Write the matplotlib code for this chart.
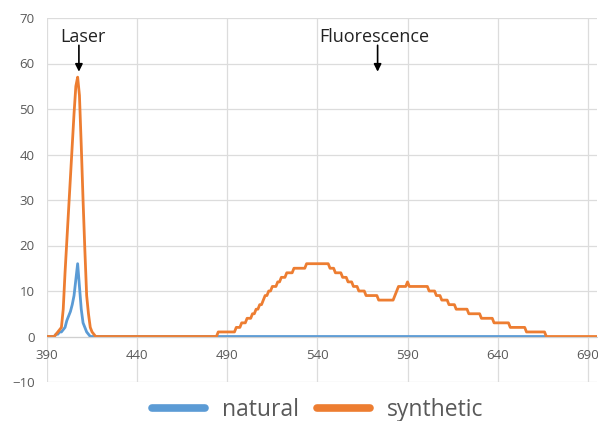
import numpy as np
import matplotlib.pyplot as plt

plt.rcParams['font.family'] = ['Open Sans', 'DejaVu Sans']

# wavelength in nm, one point per nm
wavelength = np.arange(390, 696)

# synthetic (orange), rows of 10 starting at 390, 400, ...
synthetic = [
    0, 0, 0, 0, 0, 0.5, 1, 1.5, 2, 6,            # 390
    14, 21, 28, 35, 42, 49, 55, 57, 53, 42,      # 400
    30, 19, 9, 5, 2, 1, 0.5, 0, 0, 0,            # 410
    0, 0, 0, 0, 0, 0, 0, 0, 0, 0,                # 420
    0, 0, 0, 0, 0, 0, 0, 0, 0, 0,                # 430
    0, 0, 0, 0, 0, 0, 0, 0, 0, 0,                # 440
    0, 0, 0, 0, 0, 0, 0, 0, 0, 0,                # 450
    0, 0, 0, 0, 0, 0, 0, 0, 0, 0,                # 460
    0, 0, 0, 0, 0, 0, 0, 0, 0, 0,                # 470
    0, 0, 0, 0, 0, 1, 1, 1, 1, 1,                # 480
    1, 1, 1, 1, 1, 2, 2, 2, 3, 3,                # 490
    3, 4, 4, 4, 5, 5, 6, 6, 7, 7,                # 500
    8, 9, 9, 10, 10, 11, 11, 11, 12, 12,         # 510
    13, 13, 13, 14, 14, 14, 14, 15, 15, 15,      # 520
    15, 15, 15, 15, 16, 16, 16, 16, 16, 16,      # 530
    16, 16, 16, 16, 16, 16, 16, 15, 15, 15,      # 540
    14, 14, 14, 14, 13, 13, 13, 12, 12, 12,      # 550
    11, 11, 11, 10, 10, 10, 10, 9, 9, 9,         # 560
    9, 9, 9, 9, 8, 8, 8, 8, 8, 8,                # 570
    8, 8, 8, 9, 10, 11, 11, 11, 11, 11,          # 580
    12, 11, 11, 11, 11, 11, 11, 11, 11, 11,      # 590
    11, 11, 10, 10, 10, 10, 9, 9, 9, 8,          # 600
    8, 8, 8, 7, 7, 7, 7, 6, 6, 6,                # 610
    6, 6, 6, 6, 5, 5, 5, 5, 5, 5,                # 620
    5, 4, 4, 4, 4, 4, 4, 4, 3, 3,                # 630
    3, 3, 3, 3, 3, 3, 3, 2, 2, 2,                # 640
    2, 2, 2, 2, 2, 2, 1, 1, 1, 1,                # 650
    1, 1, 1, 1, 1, 1, 1, 0, 0, 0,                # 660
    0, 0, 0, 0, 0, 0, 0, 0, 0, 0,                # 670
    0, 0, 0, 0, 0, 0, 0, 0, 0, 0,                # 680
    0, 0, 0, 0, 0, 0,                            # 690
]

# natural (blue), stops at 666 nm
natural = [
    0, 0, 0, 0, 0, 0.5, 0.5, 1, 1, 1.5,          # 390
    2, 3.5, 4.5, 5.5, 7, 9, 12.5, 16, 11, 6,     # 400
    3, 2, 1, 0.5, 0, 0, 0, 0, 0, 0,              # 410
] + [0] * 247                                    # 420 - 666

xticks = [390, 440, 490, 540, 590, 640, 690]
yticks = [-10, 0, 10, 20, 30, 40, 50, 60, 70]

blue = '#5B9BD5'
orange = '#ED7D31'
grey = '#595959'

fig = plt.figure(figsize=(5.98, 4.21), dpi=100)
ax = fig.add_axes([47/598, 1 - 382/421, 1 - 47/598 - 0.002, (382 - 18)/421])

ax.plot(wavelength[:len(natural)], natural, color=blue, lw=2.0, label='natural')
ax.plot(wavelength, synthetic, color=orange, lw=2.0, label='synthetic')

ax.set_xlim(390, 695)
ax.set_ylim(-10, 70)
ax.set_xticks(xticks)
ax.set_yticks(yticks)
ax.grid(True, color='#dcdcdc', lw=0.9)
ax.set_axisbelow(True)
for s in ['top', 'right', 'left']:
    ax.spines[s].set_visible(False)
ax.spines['bottom'].set_position(('data', 0))
ax.spines['bottom'].set_color('#d0d0d0')
ax.tick_params(length=0, labelsize=9.5, labelcolor=grey)
ax.tick_params(axis='x', pad=9)
ax.tick_params(axis='y', pad=9)

# arrows + labels
arrow = dict(arrowstyle='-|>', color='black', lw=1.2, mutation_scale=11,
             shrinkA=0, shrinkB=0)
ax.annotate('', xy=(407.7, 58.2), xytext=(407.7, 64.0), arrowprops=arrow)
ax.text(410, 65.9, 'Laser', ha='center', va='center', fontsize=13, color='#222222')
ax.annotate('', xy=(573.4, 58.2), xytext=(573.4, 64.0), arrowprops=arrow)
ax.text(571.8, 65.9, 'Fluorescence', ha='center', va='center', fontsize=13, color='#222222')

leg = fig.legend(loc='center', bbox_to_anchor=(318/598, 1 - 410/421), ncol=2,
                 frameon=False, fontsize=16.5, handlelength=2.3, handletextpad=0.75,
                 columnspacing=0.8)
for line in leg.get_lines():
    line.set_linewidth(5.5)
    line.set_solid_capstyle('round')
for t in leg.get_texts():
    t.set_color(grey)

fig.savefig('out.png', dpi=100)
